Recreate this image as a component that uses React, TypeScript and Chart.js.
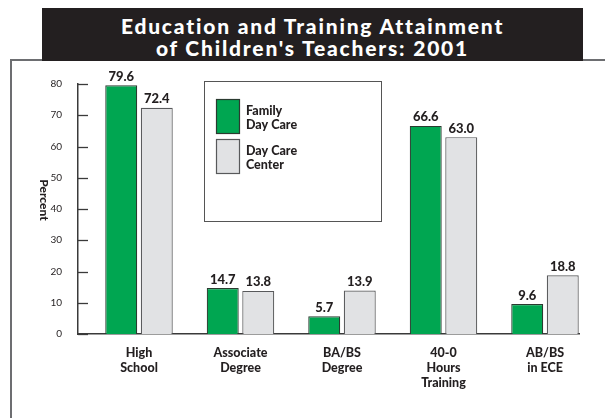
import React, { useEffect, useRef } from "react";
import { Chart, registerables } from "chart.js";

Chart.register(...registerables);

const titleLines = ["Education and Training Attainment", "of Children's Teachers: 2001"];
const categories = [
  ["High", "School"],
  ["Associate", "Degree"],
  ["BA/BS", "Degree"],
  ["40-0", "Hours", "Training"],
  ["AB/BS", "in ECE"],
];
const familyDayCare = [79.6, 14.7, 5.7, 66.6, 9.6];
const dayCareCenter = [72.4, 13.8, 13.9, 63.0, 18.8];
const seriesNames = [
  ["Family", "Day Care"],
  ["Day Care", "Center"],
];
const yTicks = [0, 10, 20, 30, 40, 50, 60, 70, 80];
const yAxisTitle = "Percent";

const GREEN = "#00a651";
const GRAY = "#e1e2e4";
const INK = "#231f20";
const FONT = "Lato, 'Open Sans', sans-serif";

const overlay = {
  id: "overlay",
  afterDatasetsDraw(chart: any) {
    const ctx = chart.ctx;
    ctx.save();
    ctx.font = `900 13px ${FONT}`;
    ctx.fillStyle = INK;
    ctx.textAlign = "center";
    ctx.textBaseline = "alphabetic";
    chart.data.datasets.forEach((ds: any, di: number) => {
      const meta = chart.getDatasetMeta(di);
      meta.data.forEach((bar: any, i: number) => {
        const v = ds.data[i].y;
        ctx.fillText(v.toFixed(1), bar.x, bar.y - 4.5);
      });
    });
    ctx.restore();
  },
  afterDraw(chart: any) {
    const ctx = chart.ctx;
    const ys = chart.scales.y;
    const area = chart.chartArea;
    ctx.save();
    // inward tick marks
    ctx.strokeStyle = "#3a3a3a";
    ctx.lineWidth = 1.3;
    ys.ticks.forEach((t: any) => {
      const py = Math.round(ys.getPixelForValue(t.value)) + 0.5;
      ctx.beginPath();
      ctx.moveTo(area.left, py);
      ctx.lineTo(area.left + 10, py);
      ctx.stroke();
    });
    // y axis title, rotated clockwise
    ctx.save();
    ctx.translate(44, (area.top + area.bottom) / 2 - 9);
    ctx.rotate(Math.PI / 2);
    ctx.font = `900 12px ${FONT}`;
    ctx.fillStyle = INK;
    ctx.textAlign = "center";
    ctx.textBaseline = "middle";
    ctx.fillText(yAxisTitle, 0, 0);
    ctx.restore();
    // legend box
    ctx.strokeStyle = "#555";
    ctx.lineWidth = 1;
    ctx.strokeRect(204.5, 81.5, 177, 140);
    const fills = [GREEN, GRAY];
    const borders = ["#2b3a30", "#58595b"];
    const swY = [99.5, 139.5];
    ctx.font = `900 12.5px ${FONT}`;
    ctx.textAlign = "left";
    ctx.textBaseline = "middle";
    seriesNames.forEach((lines, k) => {
      ctx.fillStyle = fills[k];
      ctx.fillRect(216.5, swY[k], 23, 34);
      ctx.strokeStyle = borders[k];
      ctx.lineWidth = 1.2;
      ctx.strokeRect(216.5, swY[k], 23, 34);
      ctx.fillStyle = INK;
      lines.forEach((ln, j) => {
        ctx.fillText(ln, 246, swY[k] + 11.5 + j * 14);
      });
    });
    ctx.restore();
  },
};

export default function App() {
  const ref = useRef<HTMLCanvasElement | null>(null);

  useEffect(() => {
    document.body.style.margin = "0";
    const canvas = ref.current;
    if (!canvas) return;
    const chart = new Chart(canvas, {
      type: "bar",
      data: {
        datasets: [
          {
            label: seriesNames[0].join(" "),
            data: familyDayCare.map((v, i) => ({ x: i, y: v })),
            backgroundColor: GREEN,
            borderColor: "#2b3a30",
            borderWidth: 1.2,
            barPercentage: 0.9,
            categoryPercentage: 0.7,
          },
          {
            label: seriesNames[1].join(" "),
            data: dayCareCenter.map((v, i) => ({ x: i, y: v })),
            backgroundColor: GRAY,
            borderColor: "#58595b",
            borderWidth: 1.2,
            barPercentage: 0.9,
            categoryPercentage: 0.7,
          },
        ],
      },
      options: {
        animation: false,
        responsive: true,
        maintainAspectRatio: false,
        layout: { padding: { top: 84, right: 26, bottom: 0, left: 0 } },
        plugins: {
          legend: { display: false },
          tooltip: { enabled: false },
          title: { display: false },
        },
        scales: {
          x: {
            type: "linear",
            offset: false,
            min: -0.601,
            max: 4.335,
            grid: { display: false, offset: false },
            border: { display: true, color: "#3a3a3a", width: 1.5 },
            afterBuildTicks: (s: any) => {
              s.ticks = categories.map((_, i) => ({ value: i }));
            },
            afterFit: (s: any) => {
              s.height = 84;
            },
            ticks: {
              autoSkip: false,
              maxRotation: 0,
              minRotation: 0,
              padding: 4,
              color: INK,
              font: { family: FONT, weight: "900", size: 12.5, lineHeight: 1.18 },
              callback: (v: any) => categories[Math.round(v)],
            },
          },
          y: {
            min: 0,
            max: 80,
            afterBuildTicks: (s: any) => {
              s.ticks = yTicks.map((v) => ({ value: v }));
            },
            afterFit: (s: any) => {
              s.width = 78;
            },
            grid: { display: false },
            border: { display: true, color: "#3a3a3a", width: 1.5 },
            ticks: {
              padding: 8,
              color: INK,
              font: { family: FONT, size: 10 },
              callback: (v: any) => String(v),
            },
          },
        },
      },
      plugins: [overlay],
    } as any);
    return () => chart.destroy();
  }, []);

  return (
    <div style={{ position: "fixed", left: 0, top: 0, width: 605, height: 418, background: "#fff", overflow: "hidden" }}>
      <div style={{ position: "absolute", left: 10, top: 59, width: 1.5, height: 360, background: "#6d6e71" }} />
      <div style={{ position: "absolute", left: 10, top: 59, width: 595, height: 1.5, background: "#6d6e71" }} />
      <div
        style={{
          position: "absolute",
          left: 42,
          top: 8,
          width: 541,
          height: 53,
          background: INK,
          color: "#fff",
          fontFamily: FONT,
          fontWeight: 900,
          fontSize: 21,
          letterSpacing: "1.8px",
          lineHeight: "22px",
          textAlign: "center",
          paddingTop: 7,
          boxSizing: "border-box",
        }}
      >
        {titleLines.map((t, i) => (
          <div key={i}>{t}</div>
        ))}
      </div>
      <div style={{ position: "absolute", left: 0, top: 0, width: 605, height: 418 }}>
        <canvas ref={ref} />
      </div>
    </div>
  );
}
